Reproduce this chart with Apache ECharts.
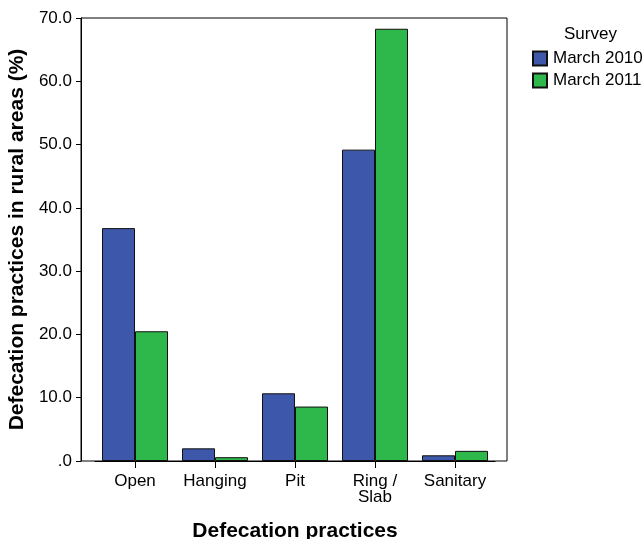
<!DOCTYPE html>
<html>
<head>
<meta charset="utf-8">
<script src="https://cdn.jsdelivr.net/npm/echarts@6/dist/echarts.min.js"></script>
<style>html,body{margin:0;padding:0;background:#fff}#c{width:644px;height:539px}</style>
</head>
<body>
<div id="c"></div>
<script>
const categories = ['Open', 'Hanging', 'Pit', 'Ring /\nSlab', 'Sanitary'];
const march2010 = [36.8, 2.0, 10.7, 49.2, 0.9];
const march2011 = [20.5, 0.6, 8.6, 68.3, 1.6];
const seriesNames = ['March 2010', 'March 2011'];
const yTicks = [0, 10, 20, 30, 40, 50, 60, 70];

const FONT = '"Liberation Sans", Arial, sans-serif';
const chart = echarts.init(document.getElementById('c'));
chart.setOption({
  animation: false,
  backgroundColor: '#fff',
  textStyle: { fontFamily: FONT, color: '#000' },
  title: {
    text: 'Survey', left: 559, top: 21,
    textStyle: { fontFamily: FONT, fontSize: 17, fontWeight: 'normal', color: '#000' }
  },
  legend: {
    orient: 'vertical', left: 527, top: 45,
    icon: 'rect',
    itemWidth: 14, itemHeight: 14, itemGap: 5,
    data: seriesNames,
    textStyle: { fontFamily: FONT, fontSize: 17, color: '#000', padding: [0, 0, 0, 1] }
  },
  grid: [
    { left: 81, top: 18, right: 137, bottom: 78, show: true, borderColor: '#000', borderWidth: 1, backgroundColor: 'transparent', outerBoundsMode: 'none', containLabel: false },
    { left: 95, top: 18, width: 400, bottom: 78, outerBoundsMode: 'none', containLabel: false }
  ],
  xAxis: [
    { type: 'value', gridIndex: 0, min: 0, max: 1, show: false },
    {
      type: 'category', gridIndex: 1, data: categories,
      axisLine: { show: true, lineStyle: { color: '#000', width: 1 } },
      axisTick: { show: true, alignWithLabel: true, interval: 0, length: 7, lineStyle: { color: '#000' } },
      axisLabel: { interval: 0, hideOverlap: false, fontFamily: FONT, fontSize: 17, color: '#000', margin: 12, lineHeight: 16 },
      name: 'Defecation practices', nameLocation: 'middle', nameGap: 60,
      nameTextStyle: { fontFamily: FONT, fontSize: 21, fontWeight: 'bold', color: '#000' }
    }
  ],
  yAxis: [
    {
      type: 'value', gridIndex: 0, min: 0, max: 70, interval: 10,
      axisLine: { show: true, lineStyle: { color: '#000' } },
      axisTick: { show: true, length: 5, lineStyle: { color: '#000' } },
      splitLine: { show: false },
      axisLabel: {
        fontFamily: FONT, fontSize: 17, color: '#000', margin: 9,
        formatter: v => (v === 0 ? '.0' : v.toFixed(1))
      },
      name: 'Defecation practices in rural areas (%)', nameLocation: 'middle', nameGap: 48,
      nameTextStyle: { fontFamily: FONT, fontSize: 21, fontWeight: 'bold', color: '#000' }
    },
    { type: 'value', gridIndex: 1, min: 0, max: 70, show: false }
  ],
  series: [
    {
      name: seriesNames[0], type: 'bar', xAxisIndex: 1, yAxisIndex: 1,
      data: march2010, barGap: '0%', barCategoryGap: '17.5%',
      itemStyle: { color: '#3d57ab', borderColor: '#111', borderWidth: 1 }
    },
    {
      name: seriesNames[1], type: 'bar', xAxisIndex: 1, yAxisIndex: 1,
      data: march2011, barGap: '0%', barCategoryGap: '17.5%',
      itemStyle: { color: '#2eb84b', borderColor: '#111', borderWidth: 1 }
    }
  ]
});
</script>
</body>
</html>
